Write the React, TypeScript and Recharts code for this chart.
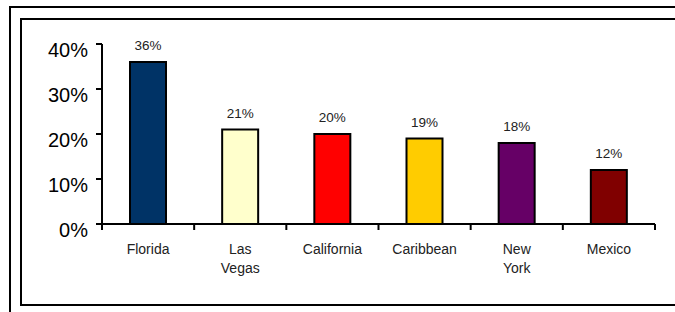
import React from "react";
import { Bar, BarChart, Cell, LabelList, XAxis, YAxis } from "recharts";

const destinations = ["Florida", "Las Vegas", "California", "Caribbean", "New York", "Mexico"];
const shares = [36, 21, 20, 19, 18, 12];
const barColors = ["#003366", "#FFFFCC", "#FF0000", "#FFCC00", "#660066", "#800000"];
const yTicks = [0, 10, 20, 30, 40];

const data = destinations.map((name, i) => ({ name, share: shares[i] }));

const FONT = '"Liberation Sans", Arial, sans-serif';

function XTick(props: any) {
  const { x, y, payload, index } = props;
  const half = payload && payload.offset ? payload.offset : 553 / 12;
  const words = String(payload.value).split(" ");
  return (
    <g>
      <line x1={x - half} y1={y - 8} x2={x - half} y2={y - 2} stroke="#000" strokeWidth={2} />
      {index === destinations.length - 1 && (
        <line x1={x + half} y1={y - 8} x2={x + half} y2={y - 2} stroke="#000" strokeWidth={2} />
      )}
      <text x={x} y={y + 22} textAnchor="middle" fontSize={14} fontFamily={FONT} fill="#222">
        {words.map((w, i) => (
          <tspan key={i} x={x} dy={i === 0 ? 0 : 19}>
            {w}
          </tspan>
        ))}
      </text>
    </g>
  );
}

function YTick(props: any) {
  const { x, y, payload } = props;
  return (
    <text x={x} y={y + 13} textAnchor="end" fontSize={20} fontFamily={FONT} fill="#000">
      {payload.value + "%"}
    </text>
  );
}

export default function App() {
  return (
    <div style={{ position: "absolute", left: 0, top: 0, width: 675, height: 312, overflow: "hidden", background: "#fff" }}>
      <div style={{ position: "absolute", left: 9, top: 6, width: 700, height: 400, border: "2px solid #000" }} />
      <div style={{ position: "absolute", left: 20, top: 18, width: 700, height: 284, border: "2px solid #000" }} />
      <div style={{ position: "absolute", left: 0, top: 0 }}>
        <BarChart width={675} height={312} data={data} margin={{ top: 44, right: 20, bottom: 28, left: 0 }}>
          <XAxis
            dataKey="name"
            interval={0}
            tickLine={false}
            axisLine={{ stroke: "#000", strokeWidth: 2 }}
            height={60}
            tick={<XTick />}
          />
          <YAxis
            width={102}
            domain={[0, 40]}
            ticks={yTicks}
            interval={0}
            tickSize={6}
            tickMargin={8}
            tickLine={{ stroke: "#000", strokeWidth: 2 }}
            axisLine={{ stroke: "#000", strokeWidth: 2 }}
            tick={<YTick />}
          />
          <Bar dataKey="share" barSize={36} stroke="#000" strokeWidth={2} isAnimationActive={false}>
            {data.map((d, i) => (
              <Cell key={d.name} fill={barColors[i]} />
            ))}
            <LabelList
              dataKey="share"
              position="top"
              offset={12}
              formatter={(v: any) => v + "%"}
              style={{ fontSize: 13.5, fontFamily: FONT, fill: "#222" }}
            />
          </Bar>
        </BarChart>
      </div>
    </div>
  );
}
